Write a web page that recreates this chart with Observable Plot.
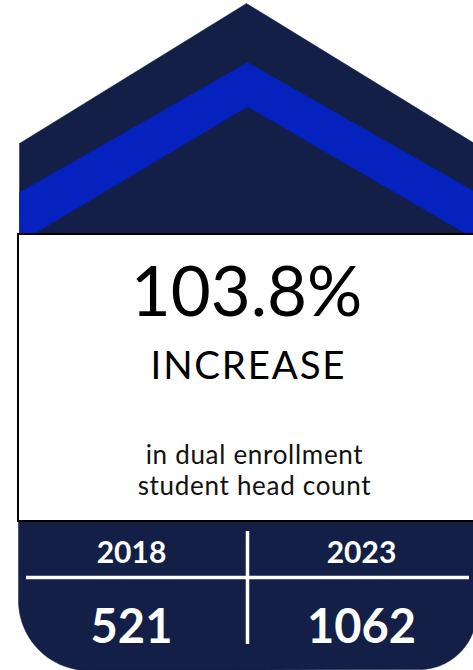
<!DOCTYPE html>
<html><head><meta charset="utf-8">
<script src="https://cdn.jsdelivr.net/npm/d3@7"></script>
<script src="https://cdn.jsdelivr.net/npm/@observablehq/plot@0.6"></script>
<style>html,body{margin:0;padding:0;background:#fff;overflow:hidden}</style>
</head><body><div id="chart"></div>
<script>
// ---- data ----
const years = ["2018", "2023"];
const headCounts = [521, 1062];
const headlineWord = ["INCREASE"];
const captionLines = ["in dual enrollment", "student head count"];

const pct = (headCounts[1] - headCounts[0]) / headCounts[0] * 100;
const pctLabel = [d3.format(".1f")(pct) + "%"];

// ---- layout / decoration ----
const W = 473, H = 670;
const navy = "#131f46", blue = "#0521be";
const colX = [131, 361];

const roof = [[19,143],[246,3],[474,143],[474,236],[19,236],[19,143]];
const band = [[19,192],[247,62],[474,191],[474,238],[247,106],[29,236],[19,236],[19,192]];
function arc(cx, cy, r, a0, a1, n = 30) {
  return d3.range(n + 1).map(i => { const a = a0 + (a1 - a0) * i / n; return [cx + r * Math.cos(a), cy + r * Math.sin(a)]; });
}
const base = [[18,515],[476,515],[476,612], ...arc(419,612,57,0,Math.PI/2), ...arc(88,600,70,Math.PI/2,Math.PI), [18,515]];

const yearData = years.map((y, i) => ({label: y, x: colX[i]}));
const countData = headCounts.map((c, i) => ({label: String(c), x: colX[i]}));
const captionText = [captionLines.join("\n")];

const chart = Plot.plot({
  width: W, height: H, margin: 0,
  x: {domain: [0, W], range: [0, W], axis: null},
  y: {domain: [0, H], range: [0, H], axis: null},
  style: {fontFamily: "Lato, 'Open Sans', sans-serif", background: "white", overflow: "hidden"},
  marks: [
    Plot.line(roof, {x: d => d[0], y: d => d[1], fill: navy, stroke: navy, strokeWidth: 0.5}),
    Plot.line(band, {x: d => d[0], y: d => d[1], fill: blue, stroke: blue, strokeWidth: 0.5}),
    Plot.line(base, {x: d => d[0], y: d => d[1], fill: navy, stroke: navy, strokeWidth: 0.5}),
    Plot.rect([0], {x1: 18, x2: 478, y1: 234, y2: 521, fill: "white", stroke: "black", strokeWidth: 2}),
    Plot.text(pctLabel, {x: 246, y: 315, text: d => d, fontSize: 69, lineAnchor: "bottom", fill: "black"}),
    Plot.text(headlineWord, {x: 248, y: 378, text: d => d, fontSize: 38.5, lineAnchor: "bottom", fill: "black"}),
    Plot.text(captionText, {x: 254, y: 494, text: d => d, fontSize: 26, lineHeight: 31 / 26, lineAnchor: "bottom", fill: "#111"}),
    Plot.ruleY([577], {x1: 26, x2: 469, stroke: "white", strokeWidth: 3.5}),
    Plot.ruleX([247], {y1: 531, y2: 644, stroke: "white", strokeWidth: 3.5}),
    Plot.text(yearData, {x: "x", y: 562, text: "label", fontSize: 30, fontWeight: "bold", lineAnchor: "bottom", fill: "white"}),
    Plot.text(countData, {x: "x", y: 642, text: "label", fontSize: 47, fontWeight: "bold", lineAnchor: "bottom", fill: "white"})
  ]
});
d3.select(chart).selectAll("text").filter(function() { return this.textContent === "INCREASE"; })
  .attr("letter-spacing", "1.8px");
d3.select(chart).selectAll("text").filter(function() { return this.textContent.startsWith("in dual"); })
  .attr("letter-spacing", "0.7px");
document.getElementById("chart").appendChild(chart);
</script>
</body></html>
